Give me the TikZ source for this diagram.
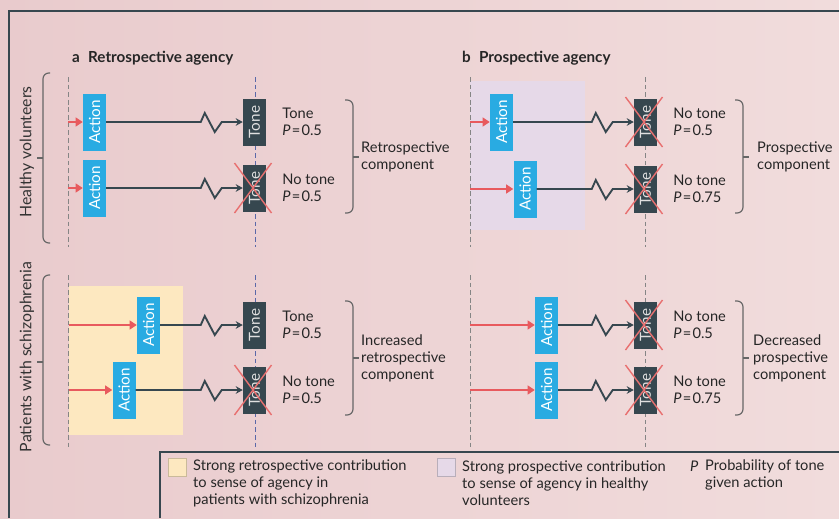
\documentclass[tikz,border=0pt]{standalone}
\usepackage{fontspec}
\setmainfont{Lato}
\usepackage{graphicx}
\definecolor{bgleft}{HTML}{E9CBCD}
\definecolor{bgright}{HTML}{F1DCDC}
\definecolor{framedark}{HTML}{37474F}
\definecolor{actionblue}{HTML}{29ABE2}
\definecolor{toneslate}{HTML}{36474F}
\definecolor{arrowred}{HTML}{E85A5E}
\definecolor{crossred}{HTML}{E87070}
\definecolor{retroyellow}{HTML}{FDE8C0}
\definecolor{prospurple}{HTML}{E6D9E8}
\definecolor{guidegray}{HTML}{858585}
\definecolor{guideblue}{HTML}{5A68A8}
\definecolor{bracegray}{HTML}{666666}
\usetikzlibrary{arrows.meta, positioning, calc}

\tikzset{
    actionbox/.style={fill=actionblue, text=white, inner sep=0pt, minimum width=0.69cm, minimum height=1.71cm, font=\fontsize{13}{13}\selectfont},
    tonebox/.style={fill=toneslate, text=white!88!black, inner sep=0pt, minimum width=0.69cm, minimum height=1.41cm, font=\fontsize{13}{13}\selectfont},
    wire/.style={draw=toneslate, line width=1.6pt, -{Stealth[length=6pt, width=6.5pt]}},
    push/.style={draw=arrowred, line width=2pt, -{Triangle[length=6pt, width=7.5pt]}},
    crossline/.style={draw=crossred, line width=1.2pt},
    guide/.style={draw=guidegray, line width=0.8pt, dash pattern=on 4pt off 2.5pt},
    guideb/.style={draw=guideblue, line width=0.8pt, dash pattern=on 4pt off 2.5pt},
    brace/.style={draw=bracegray, line width=1pt, rounded corners=5pt},
    info/.style={anchor=west, align=left, inner sep=0pt, text=black!85},
    title/.style={anchor=west, inner sep=0pt, font=\fontsize{13}{15}\selectfont\bfseries, text=black!85},
}

\begin{document}
\begin{tikzpicture}[x=0.03cm, y=-0.03cm, font=\fontsize{12.5}{14.5}\selectfont]
    \useasboundingbox (0,0) rectangle (839,518);
    \shade[left color=bgleft, right color=bgright] (0,0) rectangle (839,518);
    \draw[framedark, line width=1.6pt] (9,518) -- (9,11) -- (839,11);

    % shaded areas
    \fill[retroyellow] (69,286) rectangle (183,435);
    \fill[prospurple] (470,81) rectangle (585,230);

    % dashed time lines
    \foreach \x/\s in {68/guide, 255/guideb, 470/guide, 645/guide} {
        \draw[\s] (\x,77) -- (\x,247);
        \draw[\s] (\x,275) -- (\x,447);
    }

    % titles
    \node[title] (ta) at (72,58) {a\hspace{7pt}Retrospective agency};
    \node[title] (tb) at (462,58) {b\hspace{7pt}Prospective agency};

    % group labels
    \node[rotate=90, font=\fontsize{13.5}{13.5}\selectfont, text=black!80] (hv) at (27,152) {Healthy volunteers};
    \node[rotate=90, font=\fontsize{13.5}{13.5}\selectfont, text=black!80] (ps) at (27,357) {Patients with schizophrenia};
    \foreach \a/\b/\m in {73/243/158, 275/445/362} {
        \draw[brace] (50,\a) -| (43,\b) -- (50,\b);
        \draw[bracegray, line width=1pt] (43,\m) -- (37,\m);
    }

    % a, healthy volunteers
    \node[actionbox] (aa1) at (94.5,122) {\rotatebox{90}{Action}};
    \node[actionbox] (aa2) at (94.5,188) {\rotatebox{90}{Action}};
    \node[tonebox] (ta1) at (254.5,122) {\rotatebox{90}{Tone}};
    \node[tonebox] (ta2) at (254.5,188) {\rotatebox{90}{Tone}};
    \coordinate (sa1) at (68,122);
    \coordinate (sa2) at (68,188);

    % b, healthy volunteers
    \node[actionbox] (ab1) at (501.5,122) {\rotatebox{90}{Action}};
    \node[actionbox] (ab2) at (525,189) {\rotatebox{90}{Action}};
    \node[tonebox] (tb1) at (645.5,122) {\rotatebox{90}{Tone}};
    \node[tonebox] (tb2) at (645.5,189) {\rotatebox{90}{Tone}};
    \coordinate (sb1) at (470,122);
    \coordinate (sb2) at (470,189);

    % a, patients
    \node[actionbox] (ac1) at (148.5,325) {\rotatebox{90}{Action}};
    \node[actionbox] (ac2) at (124,390) {\rotatebox{90}{Action}};
    \node[tonebox] (tc1) at (254.5,325) {\rotatebox{90}{Tone}};
    \node[tonebox] (tc2) at (254.5,390) {\rotatebox{90}{Tone}};
    \coordinate (sc1) at (69,325);
    \coordinate (sc2) at (69,390);

    % b, patients
    \node[actionbox] (ad1) at (546.5,325) {\rotatebox{90}{Action}};
    \node[actionbox] (ad2) at (546.5,390) {\rotatebox{90}{Action}};
    \node[tonebox] (td1) at (645.5,325) {\rotatebox{90}{Tone}};
    \node[tonebox] (td2) at (645.5,390) {\rotatebox{90}{Tone}};
    \coordinate (sd1) at (470,325);
    \coordinate (sd2) at (470,390);

    % connectors
    \foreach \p in {a,b,c,d} {
        \foreach \r in {1,2} {
            \draw[push] (s\p\r) -- (a\p\r.west);
            \draw[wire] (a\p\r.east) -- ($(t\p\r.west)+(-42,0)$) -- ++(4,-9) -- ++(10,19) -- ++(7,-10) -- (t\p\r.west);
        }
    }

    % missing tones
    \foreach \t in {ta2, tb1, tb2, tc2, td1, td2} {
        \draw[crossline] ($(\t.center)+(-20,-25)$) -- ($(\t.center)+(17,25)$);
        \draw[crossline] ($(\t.center)+(17,-25)$) -- ($(\t.center)+(-20,25)$);
    }

    % outcomes
    \node[info] (oa1) at ($(ta1.east)+(16,0)$) {Tone\\{\itshape P}\kern1pt=\kern1pt0.5};
    \node[info] (oa2) at ($(ta2.east)+(16,0)$) {No tone\\{\itshape P}\kern1pt=\kern1pt0.5};
    \node[info] (ob1) at ($(tb1.east)+(16,0)$) {No tone\\{\itshape P}\kern1pt=\kern1pt0.5};
    \node[info] (ob2) at ($(tb2.east)+(16,0)$) {No tone\\{\itshape P}\kern1pt=\kern1pt0.75};
    \node[info] (oc1) at ($(tc1.east)+(16,0)$) {Tone\\{\itshape P}\kern1pt=\kern1pt0.5};
    \node[info] (oc2) at ($(tc2.east)+(16,0)$) {No tone\\{\itshape P}\kern1pt=\kern1pt0.5};
    \node[info] (od1) at ($(td1.east)+(16,0)$) {No tone\\{\itshape P}\kern1pt=\kern1pt0.5};
    \node[info] (od2) at ($(td2.east)+(16,0)$) {No tone\\{\itshape P}\kern1pt=\kern1pt0.75};

    % components
    \foreach \x/\a/\b/\m in {345/100/213/157, 735/100/213/157, 345/301/415/358, 735/301/415/358} {
        \draw[brace] (\x,\a) -| (\x+8,\b) -- (\x,\b);
        \draw[bracegray, line width=1pt] (\x+8,\m) -- (\x+14,\m);
    }
    \node[info] (ca) at (361,157) {Retrospective\\component};
    \node[info] (cb) at (757,157) {Prospective\\component};
    \node[info] (cc) at (361,358) {Increased\\retrospective\\component};
    \node[info] (cd) at (753,358) {Decreased\\prospective\\component};

    % legend
    \draw[framedark, line width=1pt] (160,518) -- (160,452) -- (839,452);
    \filldraw[fill=retroyellow, draw=retroyellow!80!black, line width=0.3pt] (168,458) rectangle (186,476);
    \node[info] (la) at (193,483) {Strong retrospective contribution\\to sense of agency in\\patients with schizophrenia};
    \filldraw[fill=prospurple, draw=prospurple!80!black, line width=0.3pt] (437,458) rectangle (455,476);
    \node[info] (lb) at (462,483) {Strong prospective contribution\\to sense of agency in healthy\\volunteers};
    \node[info, font=\fontsize{12.5}{14.5}\selectfont\itshape] (lp) at (690,466) {P};
    \node[info, anchor=north west] (lc) at (705,459) {Probability of tone\\given action};
\end{tikzpicture}
\end{document}
